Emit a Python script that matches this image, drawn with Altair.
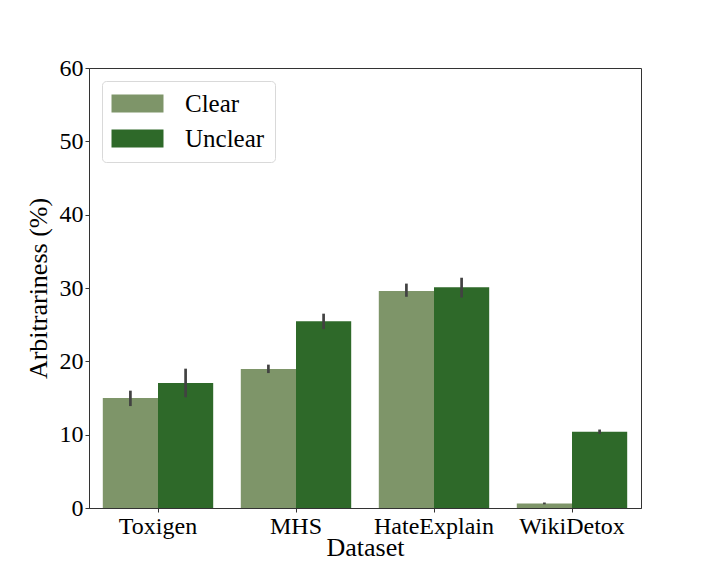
import altair as alt
import pandas as pd

datasets = ["Toxigen", "MHS", "HateExplain", "WikiDetox"]
groups = ["Clear", "Unclear"]
clear_vals = [15.0, 18.95, 29.6, 0.6]
clear_lo = [13.9, 18.4, 28.8, 0.5]
clear_hi = [16.0, 19.55, 30.6, 0.75]
unclear_vals = [17.05, 25.45, 30.1, 10.4]
unclear_lo = [15.1, 24.4, 28.7, 10.1]
unclear_hi = [19.0, 26.5, 31.4, 10.7]

rows = []
for i, d in enumerate(datasets):
    rows.append({"Dataset": d, "Group": "Clear", "value": clear_vals[i], "lo": clear_lo[i], "hi": clear_hi[i]})
    rows.append({"Dataset": d, "Group": "Unclear", "value": unclear_vals[i], "lo": unclear_lo[i], "hi": unclear_hi[i]})
df = pd.DataFrame(rows)

FONT = "Liberation Serif"
colors = ["#7e9569", "#2e6929"]

x = alt.X("Dataset:N", sort=datasets,
          scale=alt.Scale(paddingInner=0.2, paddingOuter=0.1),
          axis=alt.Axis(title="Dataset", labelAngle=0))
xoff = alt.XOffset("Group:N", sort=groups, scale=alt.Scale(paddingInner=0, paddingOuter=0))

bars = alt.Chart(df).mark_bar().encode(
    x=x,
    xOffset=xoff,
    y=alt.Y("value:Q", scale=alt.Scale(domain=[0, 60], nice=False),
            axis=alt.Axis(title="Arbitrariness (%)", values=[0, 10, 20, 30, 40, 50, 60])),
    color=alt.Color("Group:N", sort=groups,
                    scale=alt.Scale(domain=groups, range=colors),
                    legend=alt.Legend(title=None, orient="none", legendX=13, legendY=13,
                                      symbolType="M-1.444,-1L4.333,-1L4.333,1L-1.444,1Z",
                                      symbolSize=324, symbolStrokeWidth=0,
                                      labelFontSize=25, labelFont=FONT, labelColor="black",
                                      labelOffset=48, rowPadding=9,
                                      padding=10, strokeColor="#d9d9d9", fillColor="white",
                                      cornerRadius=4)),
)

errs = alt.Chart(df).mark_rule(color="#424242", strokeWidth=2.7).encode(
    x=x,
    xOffset=xoff,
    y="lo:Q",
    y2="hi:Q",
)

chart = (bars + errs).properties(
    width=552, height=440,
    autosize=alt.AutoSizeParams(type="none"),
    padding={"left": 81, "top": 60, "right": 60, "bottom": 60},
).configure_view(
    stroke="#333333", strokeWidth=1
).configure_axis(
    grid=False,
    labelFont=FONT, labelFontSize=24, labelColor="black",
    titleFont=FONT, titleFontSize=26, titleFontWeight="normal", titleColor="black",
    domainColor="#333333", tickColor="#333333", tickSize=4, labelPadding=2,
).configure_axisY(titlePadding=8).configure_axisX(titlePadding=-4)

chart.save("out.html", embed_options={"renderer": "svg", "actions": False})
